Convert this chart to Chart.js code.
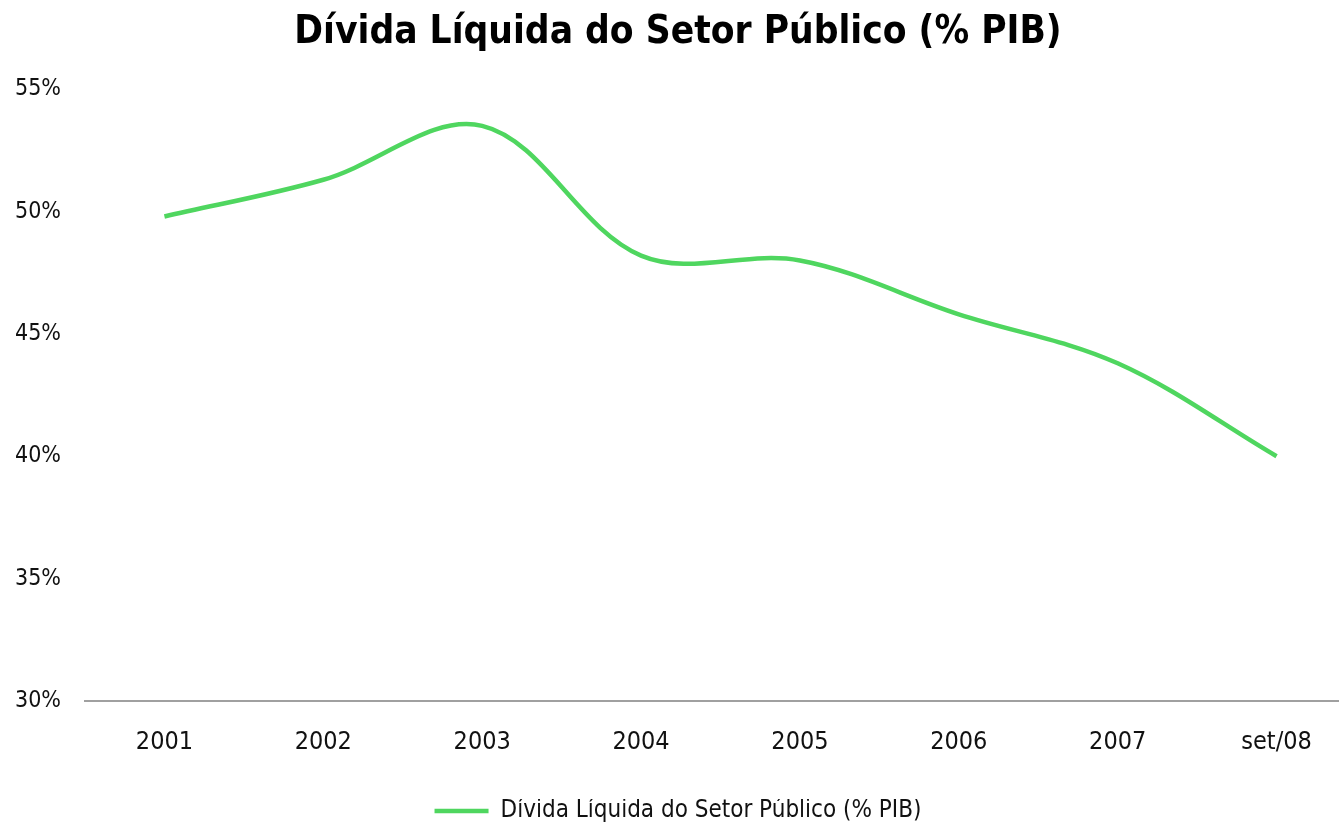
<!DOCTYPE html>
<html>
<head>
<meta charset="utf-8">
<script src="https://cdn.jsdelivr.net/npm/chart.js@4.4.0/dist/chart.umd.min.js"></script>
<style>
  html, body { margin: 0; padding: 0; background: #ffffff; overflow: hidden; width: 1339px; height: 825px; }
  #wrap { width: 1339px; height: 825px; position: relative; overflow: hidden; }
  #c { position: absolute; left: 0; top: 0; }
</style>
</head>
<body>
<div id="wrap"><canvas id="c" width="1370" height="825"></canvas></div>
<script>
const categories = ["2001", "2002", "2003", "2004", "2005", "2006", "2007", "set/08"];
const debtValues = [49.8, 51.3, 53.5, 48.2, 48.0, 45.8, 43.8, 40.0];
const yTicks = [30, 35, 40, 45, 50, 55];
const seriesName = "Dívida Líquida do Setor Público (% PIB)";
const titleText = "Dívida Líquida do Setor Público (% PIB)";

const FONT = "'Liberation Sans Narrow', 'DejaVu Sans Condensed', 'Noto Sans', sans-serif";
const GREEN = "#4fd65f";

new Chart(document.getElementById('c'), {
  type: 'line',
  data: {
    datasets: [{
      label: seriesName,
      data: debtValues.map((v, i) => ({ x: i, y: v })),
      borderColor: GREEN,
      backgroundColor: GREEN,
      borderWidth: 4.5,
      pointRadius: 0,
      pointHoverRadius: 0,
      tension: 0.35,
      fill: false
    }]
  },
  options: {
    responsive: false,
    animation: false,
    layout: { padding: { left: 0, right: 14, top: 6, bottom: -8 } },
    plugins: {
      title: {
        display: true,
        text: titleText,
        color: '#000000',
        font: { family: FONT, size: 38.5, weight: 'bold' },
        padding: { top: 4, bottom: 33 }
      },
      legend: {
        position: 'bottom',
        labels: {
          usePointStyle: true,
          pointStyle: 'line',
          pointStyleWidth: 54,
          color: '#111111',
          font: { family: FONT, size: 24 },
          padding: 0
        }
      },
      tooltip: { enabled: false }
    },
    scales: {
      x: {
        type: 'linear',
        min: -0.5,
        max: 7.5,
        afterBuildTicks: (axis) => { axis.ticks = categories.map((c, i) => ({ value: i })); },
        afterFit: (axis) => { axis.height = 98; },
        ticks: {
          callback: (v) => categories[v] !== undefined ? categories[v] : '',
          color: '#111111',
          font: { family: FONT, size: 25 },
          padding: 26,
          maxRotation: 0,
          autoSkip: false
        },
        grid: { display: false, drawTicks: false },
        border: { display: true, color: '#a0a0a0', width: 2 }
      },
      y: {
        min: 30,
        max: 55,
        afterBuildTicks: (axis) => { axis.ticks = yTicks.map(v => ({ value: v })); },
        afterFit: (axis) => { axis.width = 85; },
        ticks: {
          callback: (v) => v + '%',
          color: '#111111',
          font: { family: FONT, size: 23 },
          padding: 24
        },
        grid: { display: false, drawTicks: false },
        border: { display: false }
      }
    }
  }
});
</script>
</body>
</html>
